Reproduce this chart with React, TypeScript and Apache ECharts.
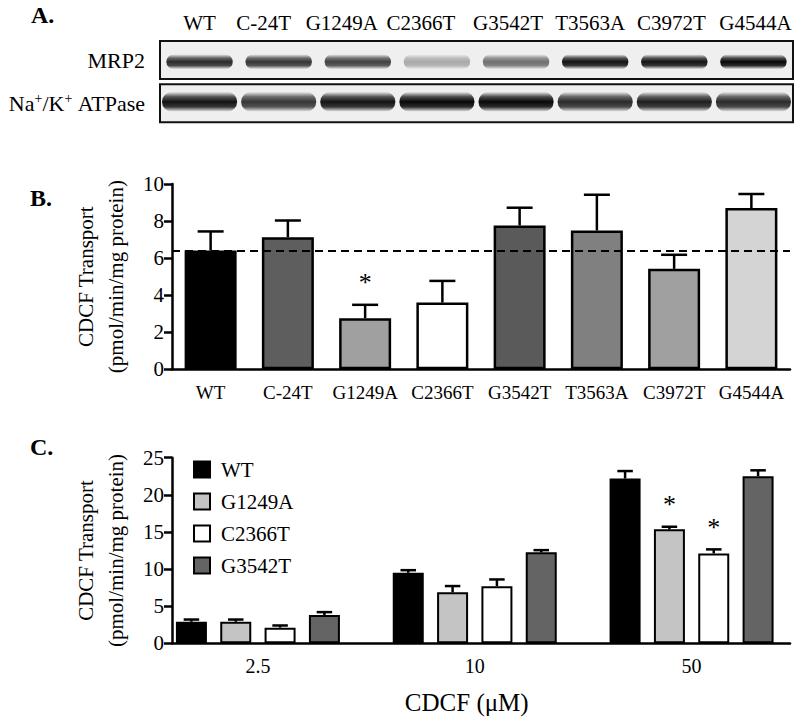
import React, { useEffect, useRef } from 'react';
import * as echarts from 'echarts';

// ---------- Panel A: western blot ----------
const laneNames = ['WT', 'C-24T', 'G1249A', 'C2366T', 'G3542T', 'T3563A', 'C3972T', 'G4544A'];
const blotRows = ['MRP2', 'Na+/K+ ATPase'];
const mrp2Intensity = [0.85, 0.8, 0.75, 0.3, 0.55, 0.95, 0.95, 1.0];
const atpaseIntensity = [0.95, 0.8, 0.95, 1.0, 1.0, 0.85, 0.9, 0.85];

// ---------- Panel B ----------
const bCategories = ['WT', 'C-24T', 'G1249A', 'C2366T', 'G3542T', 'T3563A', 'C3972T', 'G4544A'];
const bMeans = [6.41, 7.13, 2.76, 3.6, 7.76, 7.49, 5.42, 8.7];
const bSem = [1.03, 0.9, 0.72, 1.17, 0.96, 1.93, 0.76, 0.76];
const bSig = [false, false, true, false, false, false, false, false];
const bColors = ['#000000', '#5e5e5e', '#a0a0a0', '#ffffff', '#5a5a5a', '#808080', '#a0a0a0', '#d4d4d4'];
const bReference = 6.41;

// ---------- Panel C ----------
const cConcentrations = ['2.5', '10', '50'];
const cVariants = ['WT', 'G1249A', 'C2366T', 'G3542T'];
const cColors = ['#000000', '#c4c4c4', '#ffffff', '#646464'];
const cWT = [2.9, 9.5, 22.2];
const cWTSem = [0.3, 0.35, 1.0];
const cG1249A = [2.9, 6.86, 15.35];
const cG1249ASem = [0.3, 0.85, 0.35];
const cC2366T = [2.1, 7.7, 12.1];
const cC2366TSem = [0.3, 0.9, 0.55];
const cG3542T = [3.8, 12.25, 22.5];
const cG3542TSem = [0.4, 0.3, 0.8];
const cSig = [
  [false, false, false],
  [false, false, true],
  [false, false, true],
  [false, false, false],
];

const FONT = 'Liberation Serif';
const B_BAR_W = 52;
const C_BAR_W = 31;
const C_GAP = 0.43;
const AXIS_W = 2.5;

const headerNudge = [0, -15, -16, -16, -8, -5, -3, 2];

function buildOption(): any {
  const cMeans = [cWT, cG1249A, cC2366T, cG3542T];
  const cSems = [cWTSem, cG1249ASem, cC2366TSem, cG3542TSem];

  const headerRich: any = {};
  headerNudge.forEach((d, i) => {
    headerRich['h' + i] = {
      fontSize: 21,
      fontFamily: FONT,
      color: '#000',
      padding: [0, d < 0 ? -2 * d : 0, 0, d > 0 ? 2 * d : 0],
    };
  });

  const bandData: any[] = [];
  laneNames.forEach((_, i) => {
    bandData.push([i, 0, mrp2Intensity[i]]);
    bandData.push([i, 1, atpaseIntensity[i]]);
  });

  const errB = bMeans.map((m, i) => [i, m, bSem[i], bSig[i] ? 1 : 0, 0]);
  const errC: any[] = [];
  cMeans.forEach((arr, v) => {
    arr.forEach((m, c) => {
      errC.push([c, m, cSems[v][c], cSig[v][c] ? 1 : 0, v]);
    });
  });

  const axisLineStyle = { lineStyle: { color: '#000', width: AXIS_W } };
  const tickStyle = { show: true, length: 8, inside: false, lineStyle: { color: '#000', width: AXIS_W } };
  const nameStyle = { fontFamily: FONT, fontSize: 21, lineHeight: 30, color: '#000' };

  const errRender = (capW: number, offsetFn: (v: number) => number) => (params: any, api: any) => {
    const x = api.value(0);
    const m = api.value(1);
    const s = api.value(2);
    const sig = api.value(3);
    const v = api.value(4);
    const p0 = api.coord([x, m]);
    const p1 = api.coord([x, m + s]);
    const cx = p0[0] + offsetFn(v);
    const children: any[] = [
      { type: 'line', shape: { x1: cx, y1: p0[1], x2: cx, y2: p1[1] }, style: { stroke: '#000', lineWidth: 2.5 } },
      { type: 'line', shape: { x1: cx - capW / 2, y1: p1[1], x2: cx + capW / 2, y2: p1[1] }, style: { stroke: '#000', lineWidth: 2.5 } },
    ];
    if (sig) {
      children.push({
        type: 'text',
        style: {
          text: '*', x: cx, y: p1[1] - 9, align: 'center', verticalAlign: 'bottom',
          fontFamily: FONT, fontSize: 26, fill: '#000',
        },
      });
    }
    return { type: 'group', children };
  };

  return {
    animation: false,
    backgroundColor: '#ffffff',
    textStyle: { fontFamily: FONT, color: '#000' },
    graphic: [
      { type: 'text', left: 31, top: 3, style: { text: 'A.', fontFamily: FONT, fontWeight: 'bold', fontSize: 24, fill: '#000' } },
      { type: 'text', left: 30, top: 186, style: { text: 'B.', fontFamily: FONT, fontWeight: 'bold', fontSize: 24, fill: '#000' } },
      { type: 'text', left: 30, top: 435, style: { text: 'C.', fontFamily: FONT, fontWeight: 'bold', fontSize: 24, fill: '#000' } },
    ],
    legend: {
      data: cVariants,
      orient: 'vertical',
      left: 193,
      top: 459,
      padding: 0,
      itemWidth: 16,
      itemHeight: 16,
      itemGap: 11,
      icon: 'rect',
      selectedMode: false,
      textStyle: { fontFamily: FONT, fontSize: 21, color: '#000', padding: [0, 0, 0, 6] },
    },
    grid: [
      { left: 160, top: 38.4, width: 633, height: 86.6 },
      { left: 172, top: 184, width: 618, height: 185.3 },
      { left: 149.5, top: 457.7, width: 663, height: 185.6 },
      { left: 172, top: 457.7, width: 618, height: 185.6 },
    ],
    xAxis: [
      {
        type: 'category', gridIndex: 0, data: laneNames, position: 'top',
        axisLine: { show: false }, axisTick: { show: false },
        axisLabel: {
          interval: 0,
          margin: 5,
          formatter: (v: string, i: number) => '{h' + i + '|' + v + '}',
          rich: headerRich,
        },
      },
      {
        type: 'category', gridIndex: 1, data: bCategories,
        axisLine: axisLineStyle, axisTick: { show: false },
        axisLabel: { interval: 0, margin: 14, fontSize: 19, fontFamily: FONT, color: '#000' },
      },
      {
        type: 'category', gridIndex: 2, data: cConcentrations,
        axisLine: { show: false }, axisTick: { show: false },
        axisLabel: { interval: 0, margin: 13, fontSize: 20, fontFamily: FONT, color: '#000' },
        name: 'CDCF (μM)', nameLocation: 'middle', nameGap: 47,
        nameTextStyle: { fontFamily: FONT, fontSize: 25, color: '#000', padding: [0, 16, 0, 0] },
      },
      {
        type: 'value', gridIndex: 3, min: 0, max: 1,
        axisLine: { show: true, ...axisLineStyle }, axisTick: { show: false },
        axisLabel: { show: false }, splitLine: { show: false },
      },
    ],
    yAxis: [
      {
        type: 'category', gridIndex: 0, data: blotRows, inverse: true,
        axisLine: { show: false }, axisTick: { show: false },
        axisLabel: {
          interval: 0,
          margin: 15,
          formatter: (v: string) => v.split('+').map((p) => '{t|' + p + '}').join('{s|+}'),
          rich: {
            t: { fontSize: 22, fontFamily: FONT, color: '#000', lineHeight: 24 },
            s: { fontSize: 14, fontFamily: FONT, color: '#000', lineHeight: 14, verticalAlign: 'top' },
          },
        },
      },
      {
        type: 'value', gridIndex: 1, min: 0, max: 10, interval: 2,
        axisLine: { show: true, ...axisLineStyle }, axisTick: tickStyle,
        axisLabel: { margin: 8, fontSize: 21, fontFamily: FONT, color: '#000' },
        splitLine: { show: false },
        name: 'CDCF Transport\n(pmol/min/mg protein)', nameLocation: 'middle', nameRotate: 90, nameGap: 41,
        nameTextStyle: nameStyle,
      },
      { type: 'value', gridIndex: 2, min: 0, max: 25, show: false, splitLine: { show: false } },
      {
        type: 'value', gridIndex: 3, min: 0, max: 25, interval: 5,
        axisLine: { show: true, ...axisLineStyle }, axisTick: tickStyle,
        axisLabel: { margin: 8, fontSize: 21, fontFamily: FONT, color: '#000' },
        splitLine: { show: false },
        name: 'CDCF Transport\n(pmol/min/mg protein)', nameLocation: 'middle', nameRotate: 90, nameGap: 41,
        nameTextStyle: nameStyle,
      },
    ],
    series: [
      {
        type: 'custom', name: 'blotBoxes', coordinateSystem: 'cartesian2d', xAxisIndex: 0, yAxisIndex: 0,
        data: [[0, 0], [0, 1]],
        z: 1,
        renderItem: (params: any, api: any) => {
          const cs = params.coordSys;
          const row = api.value(1);
          const c = api.coord([0, row]);
          const h = api.size([0, 1])[1] - 5.3;
          return {
            type: 'rect',
            shape: { x: cs.x, y: c[1] - h / 2, width: cs.width, height: h },
            style: { fill: '#efefef', stroke: '#111', lineWidth: 2 },
          };
        },
      },
      {
        type: 'custom', name: 'blotBands', coordinateSystem: 'cartesian2d', xAxisIndex: 0, yAxisIndex: 0,
        data: bandData,
        z: 2,
        renderItem: (params: any, api: any) => {
          const lane = api.value(0);
          const row = api.value(1);
          const a = api.value(2);
          const c = api.coord([lane, row]);
          const bw = api.size([1, 1])[0];
          const isMrp = row === 0;
          const w = bw * (isMrp ? 0.84 : 0.95);
          const h = isMrp ? 15 : 20;
          const dy = isMrp ? 1.7 : -1.6;
          const col = (k: number) => 'rgba(8,8,8,' + (a * k).toFixed(3) + ')';
          return {
            type: 'rect',
            shape: { x: c[0] - w / 2, y: c[1] + dy - h / 2, width: w, height: h, r: h / 2 },
            style: {
              fill: {
                type: 'linear', x: 0, y: 0, x2: 0, y2: 1,
                colorStops: [
                  { offset: 0, color: col(0) },
                  { offset: 0.25, color: col(0.7) },
                  { offset: 0.5, color: col(1) },
                  { offset: 0.75, color: col(0.85) },
                  { offset: 1, color: col(0) },
                ],
              },
            },
          };
        },
      },
      {
        type: 'bar', name: 'panelB', xAxisIndex: 1, yAxisIndex: 1, barWidth: B_BAR_W,
        data: bMeans.map((v, i) => ({ value: v, itemStyle: { color: bColors[i] } })),
        itemStyle: { borderColor: '#000', borderWidth: 2.5 },
        z: 2,
        markLine: {
          silent: true, symbol: ['none', 'none'], label: { show: false },
          lineStyle: { type: [8, 5], color: '#000', width: 2 },
          data: [{ yAxis: bReference }],
        },
      },
      {
        type: 'custom', name: 'errB', coordinateSystem: 'cartesian2d', xAxisIndex: 1, yAxisIndex: 1,
        data: errB, z: 3,
        renderItem: errRender(B_BAR_W / 2, () => 0),
      },
      ...cVariants.map((name, v) => ({
        type: 'bar', name, xAxisIndex: 2, yAxisIndex: 2, barWidth: C_BAR_W, barGap: C_GAP * 100 + '%',
        data: cMeans[v],
        itemStyle: { color: cColors[v], borderColor: '#000', borderWidth: 2 },
        z: 2,
      })),
      {
        type: 'custom', name: 'errC', coordinateSystem: 'cartesian2d', xAxisIndex: 2, yAxisIndex: 2,
        data: errC, z: 3,
        renderItem: errRender(C_BAR_W / 2, (v: number) => (v - 1.5) * C_BAR_W * (1 + C_GAP)),
      },
    ],
  };
}

export default function App() {
  const ref = useRef<HTMLDivElement>(null);
  useEffect(() => {
    const chart = echarts.init(ref.current!, null, { renderer: 'svg' });
    chart.setOption(buildOption());
    return () => chart.dispose();
  }, []);
  return (
    <div
      ref={ref}
      style={{ position: 'absolute', left: 0, top: 0, width: 800, height: 718, background: '#fff' }}
    />
  );
}
